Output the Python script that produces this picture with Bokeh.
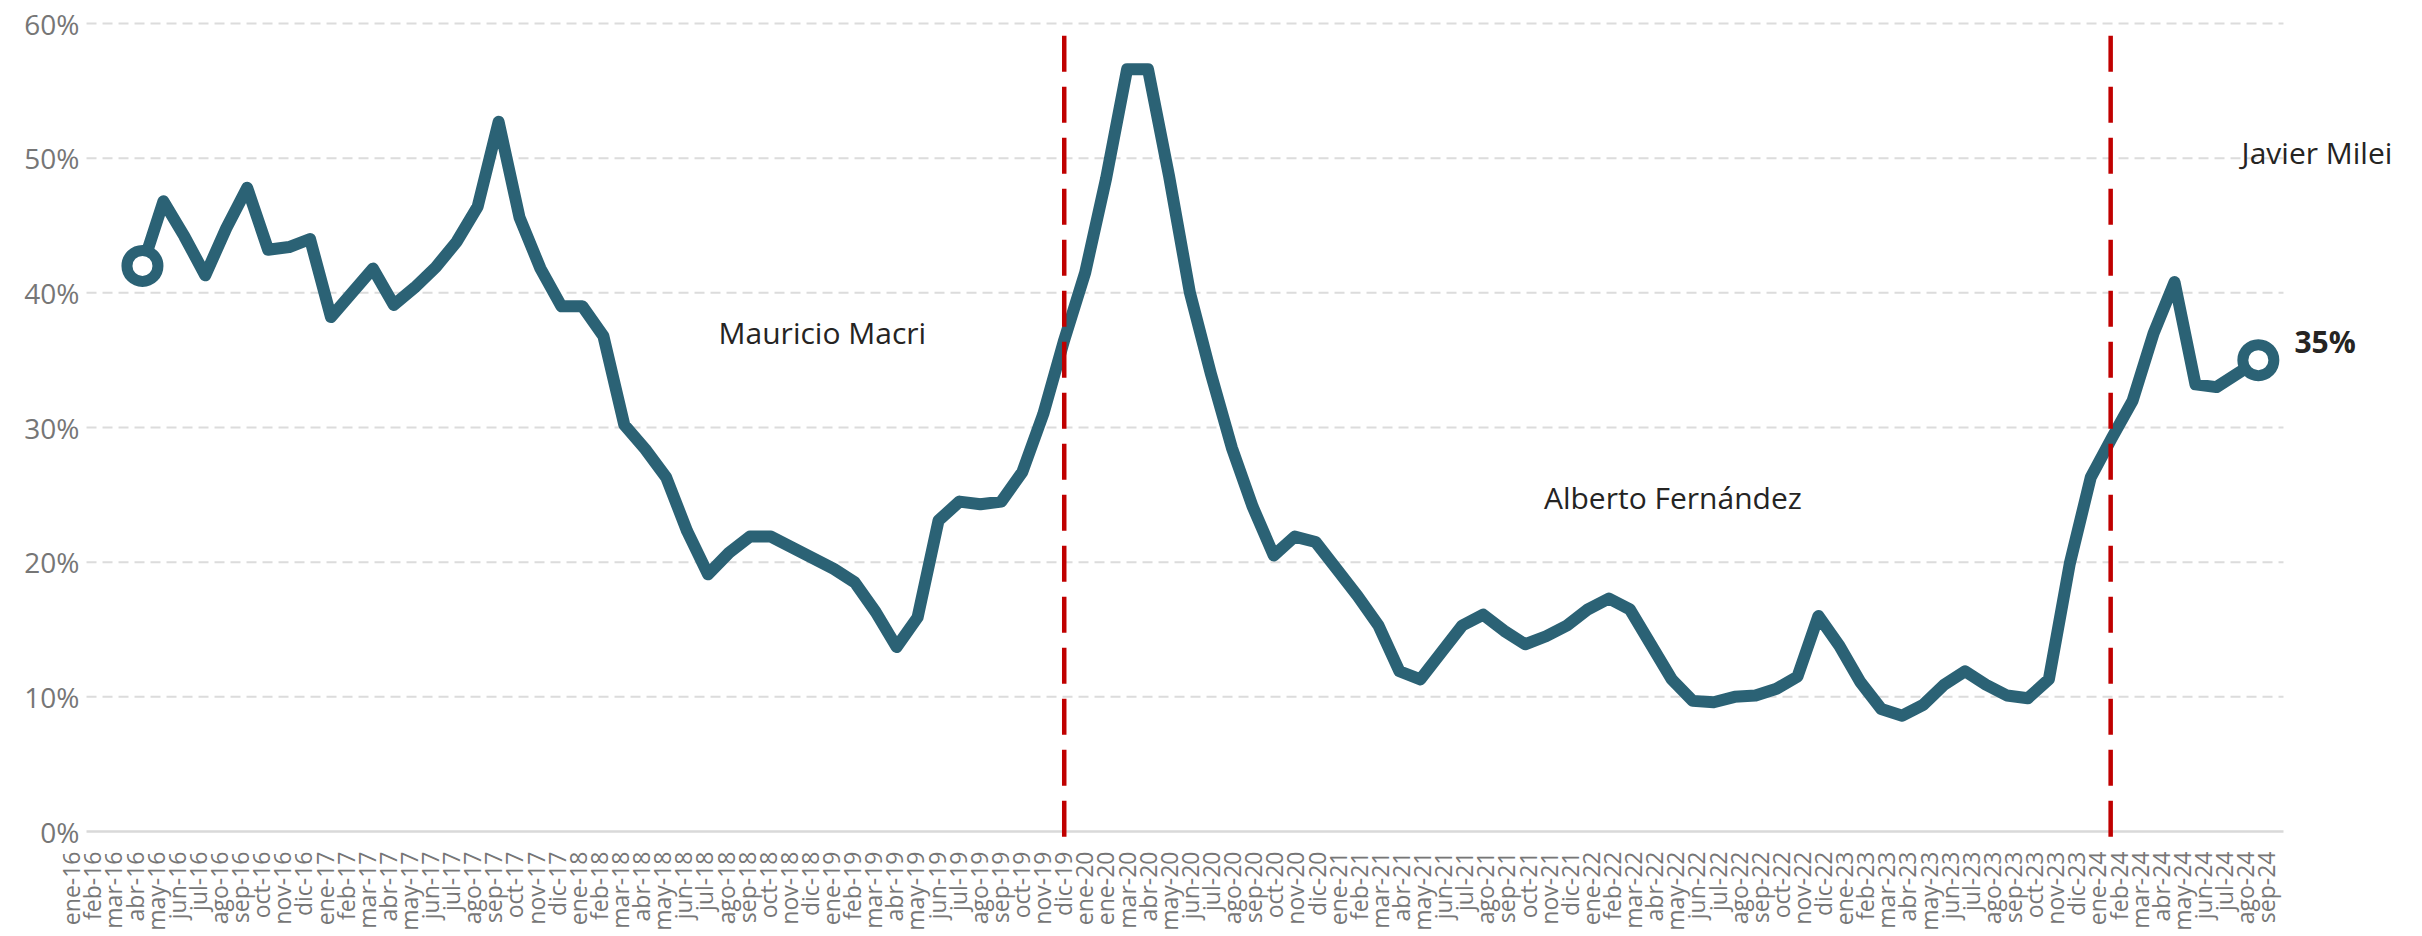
import math
import numpy as np
from bokeh.plotting import figure
from bokeh.models import Range1d, FixedTicker, Label
from bokeh.embed import file_html
from bokeh.resources import INLINE

# ---------------- data ----------------
months = [
    "ene-16", "feb-16", "mar-16", "abr-16", "may-16", "jun-16", "jul-16", "ago-16", "sep-16", "oct-16", "nov-16", "dic-16",
    "ene-17", "feb-17", "mar-17", "abr-17", "may-17", "jun-17", "jul-17", "ago-17", "sep-17", "oct-17", "nov-17", "dic-17",
    "ene-18", "feb-18", "mar-18", "abr-18", "may-18", "jun-18", "jul-18", "ago-18", "sep-18", "oct-18", "nov-18", "dic-18",
    "ene-19", "feb-19", "mar-19", "abr-19", "may-19", "jun-19", "jul-19", "ago-19", "sep-19", "oct-19", "nov-19", "dic-19",
    "ene-20", "ene-20", "mar-20", "abr-20", "may-20", "jun-20", "jul-20", "ago-20", "sep-20", "oct-20", "nov-20", "dic-20",
    "ene-21", "feb-21", "mar-21", "abr-21", "may-21", "jun-21", "jul-21", "ago-21", "sep-21", "oct-21", "nov-21", "dic-21",
    "ene-22", "feb-22", "mar-22", "abr-22", "may-22", "jun-22", "jul-22", "ago-22", "sep-22", "oct-22", "nov-22", "dic-22",
    "ene-23", "feb-23", "mar-23", "abr-23", "may-23", "jun-23", "jul-23", "ago-23", "sep-23", "oct-23", "nov-23", "dic-23",
    "ene-24", "feb-24", "mar-24", "abr-24", "may-24", "jun-24", "jul-24", "ago-24", "sep-24",
]

# percent values (None = no data)
share = [
    None, None, None, 42.0, 46.8, 44.2, 41.3, 44.8, 47.8, 43.2, 43.4, 44.0,          # 2016
    38.2, 40.0, 41.8, 39.1, 40.4, 41.9, 43.8, 46.4, 52.7, 45.6, 41.8, 39.0,          # 2017
    39.0, 36.8, 30.2, 28.4, 26.3, 22.3, 19.1, 20.7, 21.9, 21.9, 21.1, 20.3,          # 2018
    19.5, 18.5, 16.3, 13.7, 15.9, 23.1, 24.5, 24.3, 24.5, 26.7, 31.0, 36.5,          # 2019
    41.5, 48.5, 56.6, 56.6, 48.7, 40.0, 34.0, 28.5, 24.1, 20.5, 21.9, 21.5,          # 2020
    19.5, 17.5, 15.3, 11.9, 11.3, 13.3, 15.3, 16.1, 14.9, 13.9, 14.5, 15.3,          # 2021
    16.5, 17.3, 16.5, 13.9, 11.3, 9.7, 9.6, 10.0, 10.1, 10.6, 11.5, 16.0,            # 2022
    13.8, 11.1, 9.1, 8.6, 9.4, 10.9, 11.9, 10.9, 10.1, 9.9, 11.3, 19.9,              # 2023
    26.3, 29.2, 32.0, 37.0, 40.8, 33.2, 33.0, 34.0, 35.0,                            # 2024
]

y_ticks = [0, 10, 20, 30, 40, 50, 60]
y_tick_labels = ["0%", "10%", "20%", "30%", "40%", "50%", "60%"]

# government changes (position on the month axis)
transitions = [47.0, 96.95]
governments = ["Mauricio Macri", "Alberto Fernández", "Javier Milei"]

# ---------------- styling / layout ----------------
TEAL = "#2b6275"
RED = "#C00000"
GREY_TXT = "#767676"
DARK_TXT = "#252423"
GRID = "#dcdcdc"
FONT = "Open Sans"

W, H = 2420, 932
X_START, X_END = -3.776, 111.74
Y_START, Y_END = -7.5, 61.71
GRID_X0, GRID_X1 = 0.33, 105.2
LBL0, LBL_STEP = -0.4, 1.0075          # month labels sit on a slightly wider pitch than the points
gov_label_pos = [(30.5, 37.05), (69.9, 24.8), (103.2, 50.4)]

x = list(range(len(months)))
y = [np.nan if v is None else v for v in share]
valid = [i for i, v in enumerate(share) if v is not None]
first_i, last_i = valid[0], valid[-1]
label_pos = [round(LBL0 + LBL_STEP * i, 4) for i in x]

p = figure(
    width=W, height=H,
    output_backend="svg", toolbar_location=None, title=None,
    x_range=Range1d(X_START, X_END), y_range=Range1d(Y_START, Y_END),
    min_border_left=0, min_border_right=0, min_border_top=0, min_border_bottom=0,
)
p.outline_line_color = None
p.background_fill_color = "white"
p.border_fill_color = "white"
p.xgrid.visible = False
p.ygrid.visible = False

# horizontal gridlines (dashed) and solid base line
grid_y = y_ticks[1:]
p.segment(x0=[GRID_X0] * len(grid_y), x1=[GRID_X1] * len(grid_y), y0=grid_y, y1=grid_y,
          line_color=GRID, line_width=2, line_dash="10 6")
p.segment(x0=[GRID_X0], x1=[GRID_X1], y0=[y_ticks[0]], y1=[y_ticks[0]],
          line_color="#d9d9d9", line_width=2.5)

# y axis (drawn at the grid start)
p.yaxis.fixed_location = GRID_X0
p.yaxis.ticker = FixedTicker(ticks=y_ticks)
p.yaxis.major_label_overrides = {t: l for t, l in zip(y_ticks, y_tick_labels)}
p.yaxis.axis_line_color = None
p.yaxis.major_tick_line_color = None
p.yaxis.minor_tick_line_color = None
p.yaxis.major_tick_out = 0
p.yaxis.minor_tick_out = 0
p.yaxis.major_label_text_font = FONT
p.yaxis.major_label_text_font_size = "28px"
p.yaxis.major_label_text_color = GREY_TXT
p.yaxis.major_label_standoff = 7

# x axis (drawn at 0 %)
p.xaxis.fixed_location = y_ticks[0]
p.xaxis.ticker = FixedTicker(ticks=label_pos)
p.xaxis.major_label_overrides = {t: m for t, m in zip(label_pos, months)}
p.xaxis.major_label_orientation = math.pi / 2
p.xaxis.axis_line_color = None
p.xaxis.major_tick_line_color = None
p.xaxis.minor_tick_line_color = None
p.xaxis.major_tick_out = 0
p.xaxis.minor_tick_out = 0
p.xaxis.major_label_text_font = FONT
p.xaxis.major_label_text_font_size = "23px"
p.xaxis.major_label_text_color = GREY_TXT
p.xaxis.major_label_standoff = 20

# main line
p.line(x, y, line_color=TEAL, line_width=12, line_join="round", line_cap="round")

# government change lines
p.segment(x0=transitions, y0=[59.1] * len(transitions), x1=transitions, y1=[-0.82] * len(transitions),
          line_color=RED, line_width=4.5, line_dash="36 15")

# end markers
p.scatter([first_i, last_i], [share[first_i], share[last_i]], size=31,
          line_color=TEAL, line_width=11, fill_color="white")

# government names
for name, (gx, gy) in zip(governments, gov_label_pos):
    p.add_layout(Label(x=gx, y=gy, text=name, text_font=FONT, text_font_size="30px",
                       text_color=DARK_TXT, text_align="left", text_baseline="alphabetic"))

# last value label
p.add_layout(Label(x=last_i + 1.72, y=share[last_i] + 1.37, text=f"{share[last_i]:.0f}%",
                   text_font=FONT, text_font_size="30px", text_font_style="bold",
                   text_color=DARK_TXT, text_align="left", text_baseline="alphabetic"))

open("out.html", "w").write(file_html(p, INLINE))
